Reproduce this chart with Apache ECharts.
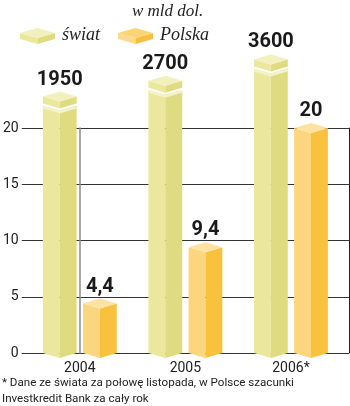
<!DOCTYPE html>
<html>
<head>
<meta charset="utf-8">
<script src="https://cdn.jsdelivr.net/npm/echarts@6/dist/echarts.min.js"></script>
<style>
html,body{margin:0;padding:0;background:#fff;}
#chart{width:350px;height:406px;}
</style>
</head>
<body>
<div id="chart"></div>
<script>
// ---- data ----
const categories = ['2004', '2005', '2006*'];
const worldValues = [1950, 2700, 3600];          // labels (mld dol.)
const worldBarHeights = [22.8, 24.2, 26.1];       // pictorial height (axis units, broken bar)
const polandValues = [4.4, 9.4, 20];
const yTicks = [0, 5, 10, 15, 20];
const unitLabel = 'w mld dol.';
const seriesNames = ['świat', 'Polska'];
const footnoteLines = ['* Dane ze świata za połowę listopada, w Polsce szacunki', 'Investkredit Bank za cały rok'];

const worldColors = {top: '#f2f0bd', left: '#ebe89d', right: '#dedb80', stripe: '#f4f2c8'};
const polandColors = {top: '#fde2a2', left: '#fcd67f', right: '#f8c23f'};

function fmt(v) { return String(v).replace('.', ','); }

function renderBar(isWorld) {
  return function (params, api) {
    const xi = api.value(0), h = api.value(1), lab = api.value(2);
    const off = isWorld ? -0.19 : 0.19;
    const top = api.coord([xi + off, h]);
    const base = api.coord([xi + off, 0]);
    const w = api.size([0.32, 0])[0];
    const xm = top[0], x0 = xm - w / 2, x1 = xm + w / 2;
    const d = 5;
    const yt = top[1], yb = base[1];
    const c = isWorld ? worldColors : polandColors;
    const poly = (pts, fill) => ({type: 'polygon', shape: {points: pts}, style: {fill: fill}});
    const children = [];
    if (isWorld) {
      const capH = 7, gap = 2;
      const yb0 = yt + capH + gap;
      children.push(poly([[x0, yb0], [xm, yb0 + d], [xm, yb + d], [x0, yb]], c.left));
      children.push(poly([[xm, yb0 + d], [x1, yb0], [x1, yb], [xm, yb + d]], c.right));
      children.push(poly([[x0, yb0], [xm, yb0 + d], [x1, yb0], [x1, yb0 + 3], [xm, yb0 + d + 3], [x0, yb0 + 3]], c.stripe));
      children.push(poly([[x0, yt], [xm, yt + d], [xm, yt + d + capH], [x0, yt + capH]], c.left));
      children.push(poly([[xm, yt + d], [x1, yt], [x1, yt + capH], [xm, yt + d + capH]], c.right));
    } else {
      children.push(poly([[x0, yt], [xm, yt + d], [xm, yb + d], [x0, yb]], c.left));
      children.push(poly([[xm, yt + d], [x1, yt], [x1, yb], [xm, yb + d]], c.right));
    }
    children.push(poly([[x0, yt], [xm, yt - d], [x1, yt], [xm, yt + d]], c.top));
    children.push({
      type: 'text',
      style: {
        text: isWorld ? String(lab) : fmt(lab),
        x: xm, y: yt - d - 2,
        textAlign: 'center', textVerticalAlign: 'bottom',
        fill: '#1a1a1a',
        font: 'bold 20px Roboto, "Liberation Sans", sans-serif'
      }
    });
    return {type: 'group', children: children};
  };
}

const chart = echarts.init(document.getElementById('chart'), null, {renderer: 'canvas'});

function legendIcon(x, y, c) {
  const w = 35, d = 5, h = 6, xm = x + w / 2;
  return [
    {type: 'polygon', shape: {points: [[x, y + d], [xm, y + 2 * d], [xm, y + 2 * d + h], [x, y + d + h]]}, style: {fill: c.left}},
    {type: 'polygon', shape: {points: [[xm, y + 2 * d], [x + w, y + d], [x + w, y + d + h], [xm, y + 2 * d + h]]}, style: {fill: c.right}},
    {type: 'polygon', shape: {points: [[x, y + d], [xm, y], [x + w, y + d], [xm, y + 2 * d]]}, style: {fill: c.top}}
  ];
}

const legendText = (text, x, y) => ({
  type: 'text', left: x, top: y,
  style: {text: text, fill: '#222', font: 'italic 18px "Liberation Serif", "DejaVu Serif", serif'}
});

chart.setOption({
  animation: false,
  grid: {left: 19, right: 1, top: 128, bottom: 53, containLabel: false},
  xAxis: {
    type: 'value', min: -0.55, max: 2.55,
    splitLine: {show: false}, axisTick: {show: false}, axisLine: {show: false},
    axisLabel: {
      customValues: [0, 1, 2],
      formatter: v => categories[Math.round(v)],
      margin: 8, color: '#222', fontSize: 14, fontFamily: 'Roboto, sans-serif'
    }
  },
  yAxis: [{
    type: 'value', min: 0, max: 20, interval: 5,
    axisLine: {show: true, lineStyle: {color: '#8c8c8c', width: 1.5}},
    axisTick: {show: false},
    axisLabel: {margin: 3, color: '#222', fontSize: 14, fontFamily: 'Roboto, sans-serif',
      formatter: v => yTicks.indexOf(v) >= 0 ? String(v) : ''},
    splitLine: {show: true, lineStyle: {color: '#333', width: 1}}
  }, {
    type: 'value', min: 0, max: 20, interval: 5, position: 'right',
    axisLine: {show: true, lineStyle: {color: '#222', width: 1}},
    axisTick: {show: false}, axisLabel: {show: false}, splitLine: {show: false}
  }],
  series: [{
    name: seriesNames[0], type: 'custom', clip: false, z: 5,
    renderItem: renderBar(true),
    encode: {x: 0, y: 1},
    data: categories.map((c, i) => [i, worldBarHeights[i], worldValues[i]])
  }, {
    name: seriesNames[1], type: 'custom', clip: false, z: 5,
    renderItem: renderBar(false),
    encode: {x: 0, y: 1},
    data: categories.map((c, i) => [i, polandValues[i], polandValues[i]])
  }],
  graphic: [
    {type: 'text', left: 132, top: 3, style: {text: unitLabel, fill: '#222', font: 'italic 17px "Liberation Serif", "DejaVu Serif", serif'}},
    ...legendIcon(20, 28, worldColors),
    legendText(seriesNames[0], 62, 26),
    ...legendIcon(118, 28, {top: '#fbd476', left: '#fcd98c', right: '#f6bf3e'}),
    legendText(seriesNames[1], 160, 26),
    {type: 'text', left: 2, top: 377, style: {text: footnoteLines[0], fill: '#222', font: '11.6px Roboto, sans-serif'}},
    {type: 'text', left: 2, top: 393, style: {text: footnoteLines[1], fill: '#222', font: '11.6px Roboto, sans-serif'}}
  ]
});
</script>
</body>
</html>
